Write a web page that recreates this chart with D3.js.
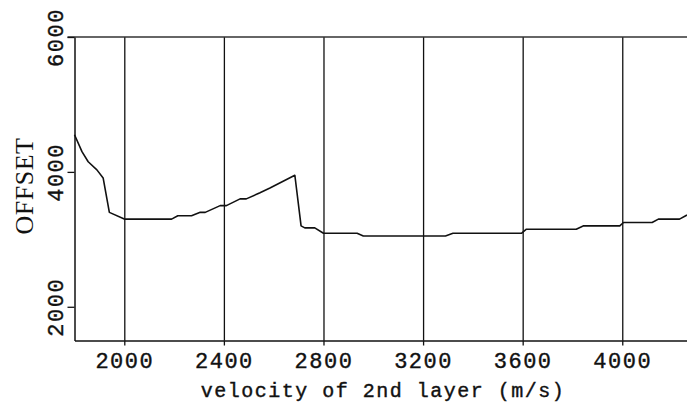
<!DOCTYPE html>
<html>
<head>
<meta charset="utf-8">
<script src="https://cdn.jsdelivr.net/npm/d3@7/dist/d3.min.js"></script>
<style>
  html, body { margin: 0; padding: 0; background: #fff; }
  svg { display: block; }
</style>
</head>
<body>
<div id="chart"></div>
<script>
// ---- data ----
const velocity = [1800,1830,1855,1890,1915,1940,2000,2190,2215,2270,2305,2325,2385,2410,2465,2490,2545,2585,2685,2710,2725,2765,2800,2935,2960,3290,3320,3595,3615,3815,3845,3990,4005,4120,4145,4230,4260];
const offset   = [4550,4300,4150,4030,3910,3400,3300,3300,3350,3350,3400,3400,3500,3500,3600,3600,3690,3760,3950,3200,3170,3170,3090,3090,3050,3050,3090,3090,3150,3150,3200,3200,3250,3250,3300,3300,3360];
const xTicks = [2000,2400,2800,3200,3600,4000];
const yTicks = [2000,4000,6000];
const xDomain = [1800,4260];
const yDomain = [1500,6000];
const xLabel = "velocity of 2nd layer (m/s)";
const yLabel = "OFFSET";

// ---- layout ----
const W = 687, H = 405;
const mLeft = 74.5, mRight = 687, mTop = 37, mBottom = 340.5;

const svg = d3.select("#chart").append("svg")
  .attr("width", W).attr("height", H);

const x = d3.scaleLinear().domain(xDomain).range([mLeft, mRight]);
const y = d3.scaleLinear().domain(yDomain).range([mBottom, mTop]);

const ink = "#111";

// vertical grid lines
svg.append("g")
  .attr("transform", `translate(0,${mBottom})`)
  .call(d3.axisBottom(x).tickValues(xTicks).tickSize(-(mBottom - mTop)).tickFormat(""))
  .call(g => g.select(".domain").remove())
  .call(g => g.selectAll("line").attr("stroke", ink).attr("stroke-width", 1.3));

// top border line
svg.append("line")
  .attr("x1", x(xDomain[0]) - 7).attr("x2", mRight)
  .attr("y1", y(6000)).attr("y2", y(6000))
  .attr("stroke", "#333").attr("stroke-width", 1.6);

// bottom axis
const xa = svg.append("g")
  .attr("transform", `translate(0,${mBottom})`)
  .call(d3.axisBottom(x).tickValues(xTicks).tickSize(5).tickSizeOuter(0).tickFormat(d3.format("d")));
xa.select(".domain").attr("stroke", ink).attr("stroke-width", 1.5);
xa.selectAll(".tick line").attr("stroke", ink).attr("stroke-width", 1.3);
xa.selectAll(".tick text")
  .attr("y", 27).attr("dy", 0)
  .attr("fill", ink)
  .style("font-family", "'Liberation Mono', 'DejaVu Sans Mono', monospace")
  .style("font-size", "22px")
  .style("letter-spacing", "1.5px")
  .style("stroke", ink).style("stroke-width", "0.4px");

// left axis
const ya = svg.append("g")
  .attr("transform", `translate(${mLeft},0)`)
  .call(d3.axisLeft(y).tickValues(yTicks).tickSize(7).tickSizeOuter(0).tickFormat(d3.format("d")));
ya.select(".domain").attr("stroke", ink).attr("stroke-width", 1.5);
ya.selectAll(".tick line").attr("stroke", ink).attr("stroke-width", 1.3);
ya.selectAll(".tick text")
  .attr("x", 0).attr("dy", 0)
  .attr("transform", "translate(-11.5,0) rotate(-90)")
  .attr("text-anchor", "middle")
  .attr("fill", ink)
  .style("font-family", "'Liberation Mono', 'DejaVu Sans Mono', monospace")
  .style("font-size", "22px")
  .style("letter-spacing", "1.5px")
  .style("stroke", ink).style("stroke-width", "0.4px");

// curve
const line = d3.line().x((d, i) => x(velocity[i])).y((d, i) => y(offset[i]));
svg.append("path")
  .datum(velocity)
  .attr("d", line)
  .attr("fill", "none")
  .attr("stroke", ink)
  .attr("stroke-width", 1.6)
  .attr("stroke-linejoin", "round");

// axis labels
svg.append("text")
  .attr("x", 383).attr("y", 397)
  .attr("text-anchor", "middle")
  .attr("fill", ink)
  .style("font-family", "'Liberation Mono', 'DejaVu Sans Mono', monospace")
  .style("font-size", "20px")
  .style("letter-spacing", "1.5px")
  .style("stroke", ink).style("stroke-width", "0.4px")
  .text(xLabel);

svg.append("text")
  .attr("transform", "translate(33,186) rotate(-90)")
  .attr("text-anchor", "middle")
  .attr("fill", ink)
  .style("font-family", "'Liberation Serif', 'DejaVu Serif', serif")
  .style("font-size", "26px")
  .style("letter-spacing", "0.5px")
  .text(yLabel);
</script>
</body>
</html>
